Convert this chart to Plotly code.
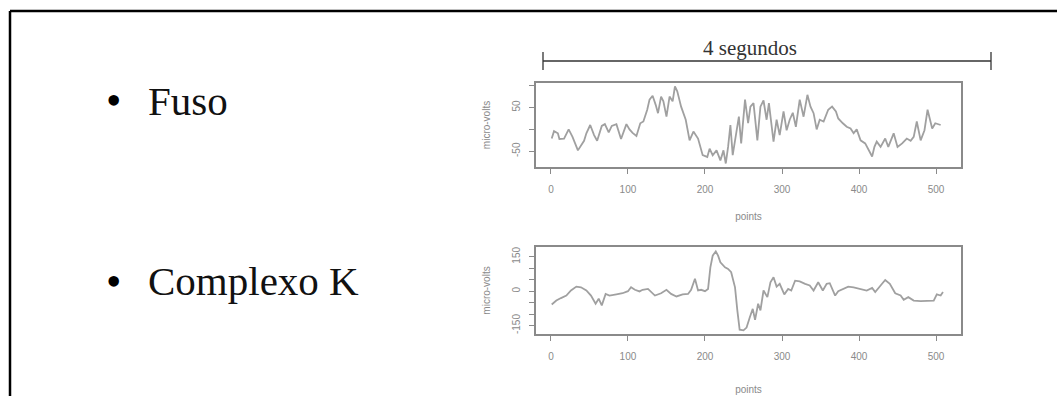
import plotly.graph_objects as go

W, H = 1057, 396

# ---- data ----
fuso_x = [1, 4, 9, 11, 17, 23, 28, 35, 43, 46, 51, 56, 60, 66, 70, 75, 79, 85, 91, 98,
          102, 106, 111, 116, 120, 125, 128, 132, 136, 139, 143, 146, 150, 154, 158, 161, 164,
          169, 175, 180, 185, 191, 197, 203, 206, 210, 215, 220, 224, 227, 230, 233, 236, 241,
          244, 247, 252, 256, 259, 263, 268, 272, 276, 280, 283, 289, 293, 297, 302, 306, 310,
          314, 318, 323, 328, 333, 337, 341, 345, 349, 354, 360, 365, 370, 373, 379, 384, 389,
          393, 397, 402, 408, 412, 417, 420, 423, 428, 434, 438, 445, 450, 456, 462, 467, 471,
          475, 480, 485, 489, 495, 499, 506]
fuso_y = [-21, -4, -9, -22, -21, 0, -17, -48, -26, -9, 10, -13, -26, 8, 12, -7, 8, 12, -22, 12,
          0, -8, -15, 14, 18, 45, 68, 77, 56, 37, 75, 64, 29, 75, 64, 98, 87,
          52, 22, -25, -5, -21, -59, -63, -44, -59, -48, -71, -48, -78, -40, 10, -59, -5,
          29, -32, 68, 14, 52, 60, -25, 52, 66, 22, 60, -28, 22, -13, 41, -2, 22,
          38, 6, 68, 29, 79, 52, 37, 0, 22, 18, 45, 52, 41, 25, 14, 6, 2,
          -9, 0, -25, -32, -44, -62, -40, -28, -40, -21, -40, -9, -40, -32, -21, -26, -17,
          18, -25, -2, 45, 2, 14, 10]

kcomplex_x = [1, 7, 13, 20, 26, 33, 39, 46, 52, 58, 62, 66, 71, 76, 85, 93, 100, 104, 109, 115,
              119, 126, 135, 143, 150, 156, 163, 171, 178, 182, 187, 191, 195, 200, 204, 207, 210,
              214, 217, 220, 226, 230, 234, 239, 242, 245, 250, 254, 258, 262, 265, 269, 272, 276,
              281, 285, 289, 293, 297, 303, 308, 312, 317, 323, 330, 336, 341, 347, 353, 358, 362,
              369, 373, 380, 386, 393, 402, 410, 417, 421, 428, 434, 440, 447, 454, 458, 464, 471,
              480, 488, 497, 501, 506, 509]
kcomplex_y = [-58, -41, -30, -19, 3, 20, 17, 3, -19, -55, -33, -62, -12, -19, -14, -9, 0, 17, 6, -1,
              6, 10, -19, -9, 6, -12, -23, -14, -12, 6, 54, 3, 6, 0, 10, 104, 155,
              174, 155, 126, 104, 97, 83, 17, -84, -168, -171, -159, -116, -77, -125, -55, -84, 3,
              -26, 39, 61, 20, 32, -14, 10, 3, 46, 43, 32, 25, 3, 39, 3, 32, 35,
              -19, 0, 10, 20, 17, 10, 3, 14, -4, 25, 49, 32, -9, -19, -38, -26, -41,
              -43, -41, -41, -14, -19, -4]

x_tickvals = [0, 100, 200, 300, 400, 500]
x_ticktext = ["0", "100", "200", "300", "400", "500"]
fuso_tickvals = [-50, 0, 50, 100]
fuso_ticktext = ["-50", "", "50", ""]
k_tickvals = [-150, -100, -50, 0, 50, 100, 150]
k_ticktext = ["-150", "", "", "0", "", "", "150"]

bullets = ["Fuso", "Complexo K"]
span_label = "4 segundos"
x_title = "points"
y_title = "micro-volts"

# ---- layout helpers (pixel -> paper) ----
def px(x):
    return x / W

def py(y):
    return 1 - y / H

LINE = "#a0a0a0"
FRAME = "#8a8a8a"
TXT = "#8a8a8a"

fig = go.Figure()
fig.add_trace(go.Scatter(x=fuso_x, y=fuso_y, mode="lines",
                         line=dict(color=LINE, width=1.8), xaxis="x", yaxis="y",
                         showlegend=False))
fig.add_trace(go.Scatter(x=kcomplex_x, y=kcomplex_y, mode="lines",
                         line=dict(color=LINE, width=1.8), xaxis="x2", yaxis="y2",
                         showlegend=False))

def xaxis_cfg(title_standoff):
    return dict(range=[-19.4, 532.4], tickvals=x_tickvals, ticktext=x_ticktext,
                showline=True, mirror=True, linecolor=FRAME, linewidth=1.5,
                ticks="outside", ticklen=5, tickcolor=FRAME, tickwidth=1,
                showgrid=False, zeroline=False,
                tickfont=dict(family="Liberation Sans", size=10, color=TXT),
                ticklabelstandoff=7,
                title=dict(text=x_title, standoff=title_standoff,
                           font=dict(family="Liberation Sans", size=10, color=TXT)))

common_y = dict(showline=True, mirror=True, linecolor=FRAME, linewidth=1.5,
                ticks="outside", ticklen=5, tickcolor=FRAME, tickwidth=1,
                showgrid=False, zeroline=False, tickangle=-90,
                ticklabelstandoff=5,
                tickfont=dict(family="Liberation Sans", size=10, color=TXT),
                title=dict(text=y_title, standoff=19,
                           font=dict(family="Liberation Sans", size=10, color=TXT)))

fig.update_layout(
    width=W, height=H,
    margin=dict(l=0, r=0, t=0, b=0),
    paper_bgcolor="white", plot_bgcolor="white",
    xaxis=dict(domain=[px(536), px(961)], anchor="y", **xaxis_cfg(19)),
    yaxis=dict(domain=[py(167), py(83)], anchor="x", range=[-86, 106],
               tickvals=fuso_tickvals, ticktext=fuso_ticktext, **common_y),
    xaxis2=dict(domain=[px(536), px(961)], anchor="y2", **xaxis_cfg(25)),
    yaxis2=dict(domain=[py(334), py(247)], anchor="x2", range=[-187, 193],
                tickvals=k_tickvals, ticktext=k_ticktext, **common_y),
)

shapes = []
# outer slide border (top and left)
shapes.append(dict(type="line", xref="paper", yref="paper", x0=px(10), x1=px(1057),
                   y0=py(11), y1=py(11), line=dict(color="black", width=2.5)))
shapes.append(dict(type="line", xref="paper", yref="paper", x0=px(10), x1=px(10),
                   y0=py(11), y1=py(396), line=dict(color="black", width=2.5)))
# 4 segundos bracket
shapes.append(dict(type="line", xref="paper", yref="paper", x0=px(543), x1=px(991),
                   y0=py(61), y1=py(61), line=dict(color="#333", width=1.3)))
for xx in (543, 991):
    shapes.append(dict(type="line", xref="paper", yref="paper", x0=px(xx), x1=px(xx),
                       y0=py(52), y1=py(70), line=dict(color="#333", width=1.3)))
fig.update_layout(shapes=shapes)

annotations = []
annotations.append(dict(text=span_label, xref="paper", yref="paper", x=px(750), y=py(48),
                        xanchor="center", yanchor="middle", showarrow=False,
                        font=dict(family="Liberation Serif", size=21, color="#333")))
for label, yc in zip(bullets, [101, 281]):
    annotations.append(dict(text="•", xref="paper", yref="paper", x=px(113), y=py(yc),
                            xanchor="center", yanchor="middle", showarrow=False,
                            font=dict(family="Liberation Serif", size=44, color="black")))
    annotations.append(dict(text=label, xref="paper", yref="paper", x=px(146), y=py(yc),
                            xanchor="left", yanchor="middle", showarrow=False,
                            font=dict(family="Liberation Serif", size=41, color="#111")))
fig.update_layout(annotations=annotations)

fig.write_html("out.html")
